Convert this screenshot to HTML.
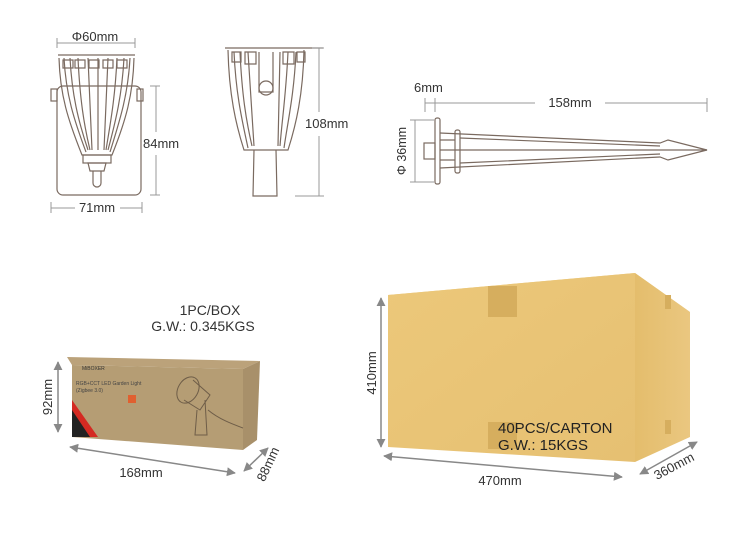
<!DOCTYPE html>
<html><head><style>
body{margin:0;background:#fff;width:750px;height:547px;overflow:hidden}
svg{display:block}
text{font-family:"Liberation Sans",Arial,sans-serif;fill:#333}
</style></head><body>
<svg width="750" height="547" viewBox="0 0 750 547" xmlns="http://www.w3.org/2000/svg">
<defs>
<marker id="ar" viewBox="0 0 10 10" refX="9" refY="5" markerWidth="6" markerHeight="6" orient="auto-start-reverse"><path d="M0,0L10,5L0,10z" fill="#888"/></marker>
<linearGradient id="cf" x1="0" y1="0" x2="1" y2="1"><stop offset="0" stop-color="#ecc87a"/><stop offset="1" stop-color="#e6c072"/></linearGradient>
<linearGradient id="cs" x1="0" y1="0" x2="1" y2="0"><stop offset="0" stop-color="#e4bd6c"/><stop offset="1" stop-color="#eac780"/></linearGradient>
</defs>
<g stroke="#7a6a60" fill="none" stroke-width="1.2">
<line x1="57" y1="43" x2="135" y2="43" stroke="#999" stroke-width="1"/><line x1="57" y1="38" x2="57" y2="48" stroke="#999" stroke-width="1"/><line x1="135" y1="38" x2="135" y2="48" stroke="#999" stroke-width="1"/>
<rect x="57" y="86" width="84" height="109" rx="6"/>
<line x1="58" y1="55" x2="135" y2="55"/>
<path d="M59,58 C60,95 68,120 82,155 L112,155 C126,120 133,95 134,58"/>
<path d="M64,58 C66,95 74,120 86,152 M70,58 C72,95 78,120 88,150 M78,58 C80,100 84,125 90,150 M88,58 L92,150 M98,58 L98,150 M108,58 L104,150 M117,58 C115,100 110,125 106,150 M124,58 C122,95 116,120 108,150 M130,58 C128,95 120,120 110,152"/>
<path d="M63,60h10v8h-10z M75,60h10v8h-10z M89,60h10v8h-10z M103,60h10v8h-10z M117,60h10v8h-10z"/>
<rect x="51" y="89" width="6" height="12"/><rect x="137" y="89" width="6" height="12"/>
<rect x="83" y="155" width="28" height="8"/><path d="M88,163h18l-2,8h-14z"/>
<path d="M93,171v12a4,4 0 0 0 8,0v-12"/>
<g stroke="#999" stroke-width="1">
<line x1="51" y1="208" x2="75" y2="208"/><line x1="120" y1="208" x2="142" y2="208"/>
<line x1="51" y1="202" x2="51" y2="213"/><line x1="142" y1="202" x2="142" y2="213"/>
<line x1="150" y1="86" x2="160" y2="86"/><line x1="150" y1="195" x2="160" y2="195"/>
<line x1="156" y1="86" x2="156" y2="132"/><line x1="156" y1="155" x2="156" y2="195"/>
</g>
<line x1="225" y1="48" x2="323" y2="48"/>
<path d="M228,50 C229,95 236,125 244,150 L288,150 C296,125 303,95 304,50"/>
<path d="M234,52 C236,95 242,120 248,148 M240,52 C242,95 246,120 252,146 M248,52 L254,146 M280,52 L278,146 M288,52 C286,95 282,120 280,146 M296,52 C294,95 288,120 284,148"/>
<path d="M232,52h9v10h-9z M245,52h11v12h-11z M283,52h11v12h-11z M297,52h8v10h-8z"/>
<path d="M259,52 v40 h14 v-40"/>
<circle cx="266" cy="88" r="7"/>
<path d="M254,150 L253,196 L277,196 L276,150"/>
<g stroke="#999" stroke-width="1">
<line x1="319" y1="48" x2="319" y2="112"/><line x1="319" y1="136" x2="319" y2="196"/>
<line x1="312" y1="48" x2="324" y2="48"/><line x1="295" y1="196" x2="324" y2="196"/>
<line x1="425" y1="103" x2="535" y2="103"/><line x1="605" y1="103" x2="707" y2="103"/>
<line x1="425" y1="98" x2="425" y2="112"/><line x1="435" y1="98" x2="435" y2="112"/><line x1="707" y1="98" x2="707" y2="112"/>
<line x1="415" y1="120" x2="415" y2="182"/><line x1="410" y1="120" x2="434" y2="120"/><line x1="410" y1="182" x2="434" y2="182"/>
</g>
<rect x="435" y="118" width="5" height="66" rx="2"/>
<rect x="455" y="130" width="5" height="43" rx="2"/>
<rect x="424" y="143" width="11" height="16"/>
<path d="M440,133 L660,143 L668,140 L707,150 L668,160 L660,157 L440,168"/>
<path d="M440,140 L455,140 M440,150 L707,150 M440,160 L455,160 M460,138 L660,146 M460,163 L660,154"/>
</g>
<text x="95" y="41" font-size="13" text-anchor="middle">Φ60mm</text>
<text x="97" y="212" font-size="13" text-anchor="middle">71mm</text>
<text x="143" y="148" font-size="13">84mm</text>
<text x="305" y="128" font-size="13">108mm</text>
<text x="414" y="92" font-size="13">6mm</text>
<text x="570" y="107" font-size="13" text-anchor="middle">158mm</text>
<text transform="translate(406,151) rotate(-90)" font-size="12.5" text-anchor="middle">Φ 36mm</text>

<polygon points="67,357 260,361 243,369 72,365" fill="#bba27a"/>
<polygon points="72,365 243,369 243,450 72,437" fill="#b59d74"/>
<polygon points="243,369 260,361 257,440 243,450" fill="#a8906a"/>
<polygon points="72,400 98,437 72,437" fill="#d42a22"/>
<polygon points="72,410 90,437 72,437" fill="#222"/>
<text x="82" y="370" font-size="5" fill="#c33">MiBOXER</text>
<text x="76" y="385" font-size="5" style="fill:#444">RGB+CCT LED Garden Light</text>
<text x="76" y="392" font-size="5" style="fill:#444">(Zigbee 3.0)</text>
<rect x="128" y="395" width="8" height="8" fill="#e06030"/>
<g stroke="#6e5d48" fill="none"><ellipse cx="188" cy="390" rx="10" ry="14" transform="rotate(30 188 390)"/><path d="M193,380 L210,395 L200,410 L184,400 M205,400 L207,435 L195,435 L197,410 M208,410 C220,420 235,425 243,428"/></g>
<g stroke="#888" stroke-width="1.5"><line x1="58" y1="362" x2="58" y2="432" marker-start="url(#ar)" marker-end="url(#ar)"/>
<line x1="70" y1="447" x2="235" y2="473" marker-start="url(#ar)" marker-end="url(#ar)"/>
<line x1="244" y1="471" x2="268" y2="448" marker-start="url(#ar)" marker-end="url(#ar)"/></g>
<text x="210" y="315" font-size="14" text-anchor="middle">1PC/BOX</text>
<text x="203" y="331" font-size="14" text-anchor="middle">G.W.: 0.345KGS</text>
<text transform="translate(52,397) rotate(-90)" font-size="13" text-anchor="middle">92mm</text>
<text x="141" y="477" font-size="13" text-anchor="middle">168mm</text>
<text transform="translate(272,466) rotate(-65)" font-size="13" text-anchor="middle">88mm</text>

<polygon points="388,295 635,273 690,312 635,300" fill="#eed28e"/>
<polygon points="388,295 635,273 635,462 388,447" fill="url(#cf)"/>
<polygon points="635,273 690,312 690,437 635,462" fill="url(#cs)"/>
<rect x="488" y="286" width="29" height="31" fill="#d6ae5e"/>
<rect x="488" y="422" width="29" height="27" fill="#d6ae5e"/>
<rect x="665" y="295" width="6" height="14" fill="#d6ae5e"/>
<rect x="665" y="420" width="6" height="14" fill="#d6ae5e"/>
<g stroke="#888" stroke-width="1.5"><line x1="381" y1="298" x2="381" y2="447" marker-start="url(#ar)" marker-end="url(#ar)"/>
<line x1="384" y1="456" x2="622" y2="477" marker-start="url(#ar)" marker-end="url(#ar)"/>
<line x1="640" y1="474" x2="697" y2="442" marker-start="url(#ar)" marker-end="url(#ar)"/></g>
<text transform="translate(376,373) rotate(-90)" font-size="13" text-anchor="middle">410mm</text>
<text x="500" y="485" font-size="13" text-anchor="middle">470mm</text>
<text transform="translate(676,470) rotate(-28)" font-size="13" text-anchor="middle">360mm</text>
<text x="498" y="433" font-size="15" style="fill:#222">40PCS/CARTON</text>
<text x="498" y="450" font-size="15" style="fill:#222">G.W.: 15KGS</text>
</svg>
</body></html>
